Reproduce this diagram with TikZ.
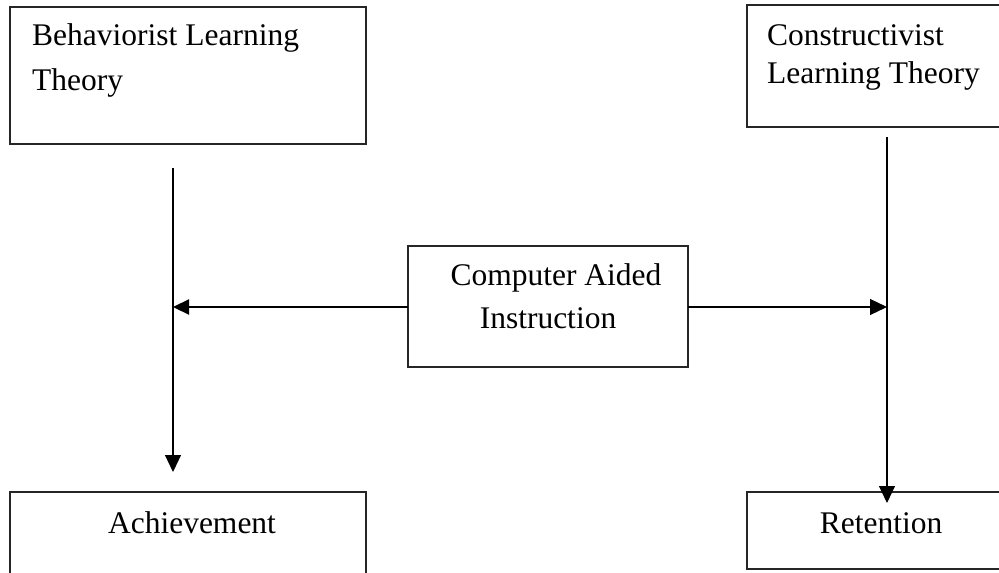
\documentclass[tikz,border=0pt]{standalone}
\usepackage{fontspec}
\setmainfont{Liberation Serif}
\usetikzlibrary{arrows.meta}
\begin{document}
\begin{tikzpicture}[x=1pt,y=-1pt,
  box/.style={draw=black!85,line width=1.3pt,rectangle},
  lbl/.style={inner sep=0pt,font=\fontsize{31.5}{34}\selectfont},
  conn/.style={line width=1.1pt,-{Triangle[length=17pt,width=16pt]}},
  thickconn/.style={line width=2.2pt,-{Triangle[length=16pt,width=15pt]}}]
\useasboundingbox (0,0) rectangle (999,573);
\fill[white] (0,0) rectangle (999,573);
\clip (0,0) rectangle (999,573);
% boxes
\draw[box] (10,7) rectangle (366,144);
\draw[box] (747,5) rectangle (1020,127);
\draw[box] (408,246) rectangle (688,367);
\coordinate (caiW) at (408,307);
\coordinate (caiE) at (688,307);
\draw[box] (10,492) rectangle (366,600);
\draw[box] (747,492) rectangle (1020,569);
% labels
\node[lbl,anchor=base west] (bh1) at (32,45) {Behaviorist Learning};
\node[lbl,anchor=base west] (bh2) at (32,90) {Theory};
\node[lbl,anchor=base west] (cl1) at (767,45) {Constructivist};
\node[lbl,anchor=base west] (cl2) at (767,83) {Learning Theory};
\node[lbl,anchor=base] (cai1) at (556,285) {Computer Aided};
\node[lbl,anchor=base] (cai2) at (548,328) {Instruction};
\node[lbl,anchor=base] (ach) at (192,533) {Achievement};
\node[lbl,anchor=base] (ret) at (881,533) {Retention};
% connector ends
\coordinate (lTop) at (173,168);
\coordinate (lBot) at (173,472);
\coordinate (lMid) at (173,307);
\coordinate (rTop) at (887,137);
\coordinate (rBot) at (887,503);
\coordinate (rMid) at (887,307);
% connectors
\draw[conn] (lTop) -- (lBot);
\draw[conn] (rTop) -- (rBot);
\draw[thickconn] (caiW) -- (lMid);
\draw[conn] (caiE) -- (rMid);
\end{tikzpicture}
\end{document}
